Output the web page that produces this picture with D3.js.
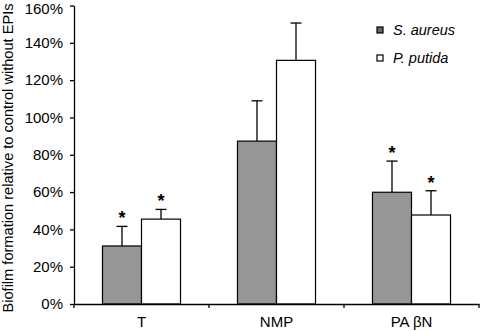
<!DOCTYPE html>
<html><head><meta charset="utf-8">
<script src="https://cdn.jsdelivr.net/npm/d3@7"></script>
<style>body{margin:0;background:#fff}svg{display:block}text{font-family:"Liberation Sans",Arial,sans-serif}</style>
</head><body><svg id="c" width="482" height="332"></svg>
<script>
const categories = ["T", "NMP", "PA \u03B2N"];
const seriesNames = ["S. aureus", "P. putida"];
const aureusValues = [0.311, 0.873, 0.599];
const aureusErrors = [0.105, 0.216, 0.167];
const putidaValues = [0.455, 1.306, 0.477];
const putidaErrors = [0.052, 0.200, 0.130];
const aureusSignificant = [true, false, true];
const putidaSignificant = [true, false, true];
const yTicks = [0, 0.2, 0.4, 0.6, 0.8, 1.0, 1.2, 1.4, 1.6];
const seriesColors = ["#969696", "#ffffff"];

(function() {
const svg = d3.select("#c");
const FS = 15;
const mLeft = 74, mRight = 479, mTop = 5.5, mBottom = 304;
const x0 = d3.scaleBand().domain(categories).range([mLeft, mRight]).padding(0);
const x1 = d3.scaleBand().domain(seriesNames).range([0, x0.bandwidth()]).paddingInner(0).paddingOuter(0.73);
const y = d3.scaleLinear().domain([0, 1.6]).range([mBottom, mTop]);

const rows = categories.map((c, i) => ({
  cat: c,
  vals: [
    {s: seriesNames[0], v: aureusValues[i], e: aureusErrors[i], sig: aureusSignificant[i], col: seriesColors[0]},
    {s: seriesNames[1], v: putidaValues[i], e: putidaErrors[i], sig: putidaSignificant[i], col: seriesColors[1]}
  ]
}));

const g = svg.append("g");
const groups = g.selectAll("g.grp").data(rows).join("g").attr("class", "grp").attr("transform", d => `translate(${x0(d.cat)},0)`);
groups.selectAll("g.err").data(d => d.vals).join("g").attr("class", "err").each(function(d) {
  const cx = x1(d.s) + x1.bandwidth() / 2;
  const sel = d3.select(this);
  sel.append("line").attr("x1", cx).attr("x2", cx).attr("y1", y(d.v)).attr("y2", y(d.v + d.e)).attr("stroke", "#000").attr("stroke-width", 1.3);
  sel.append("line").attr("x1", cx - 5.5).attr("x2", cx + 5.5).attr("y1", y(d.v + d.e)).attr("y2", y(d.v + d.e)).attr("stroke", "#000").attr("stroke-width", 1.3);
  if (d.sig) {
    sel.append("text").attr("x", cx).attr("y", y(d.v + d.e) - 2).attr("text-anchor", "middle").attr("font-size", 18).attr("font-weight", "bold").text("*");
  }
});
groups.selectAll("rect").data(d => d.vals).join("rect")
  .attr("x", d => x1(d.s)).attr("width", x1.bandwidth())
  .attr("y", d => y(d.v)).attr("height", d => y(0) - y(d.v))
  .attr("fill", d => d.col).attr("stroke", "#000").attr("stroke-width", 1.2);

const ya = svg.append("g").attr("transform", `translate(${mLeft},0)`)
  .call(d3.axisLeft(y).tickValues(yTicks).tickFormat(d3.format(".0%")).tickSize(4).tickSizeOuter(0).tickPadding(7));
ya.select(".domain").attr("stroke-width", 1.3);
ya.selectAll(".tick line").attr("stroke-width", 1.3);
ya.selectAll("text").attr("font-size", FS).attr("font-family", '"Liberation Sans",Arial,sans-serif').attr("fill", "#000");
ya.selectAll(".tick text").filter(d => d === 1.6).attr("dy", "0.5em");

const xa = svg.append("g").attr("transform", `translate(0,${mBottom})`)
  .call(d3.axisBottom(x0).tickSize(0).tickPadding(12));
xa.select(".domain").attr("stroke-width", 1.3);
xa.selectAll("text").attr("font-size", FS).attr("font-family", '"Liberation Sans",Arial,sans-serif').attr("fill", "#000");
const bounds = [mLeft].concat(categories.map(c => x0(c) + x0.bandwidth()));
xa.selectAll("line.b").data(bounds).join("line").attr("class", "b")
  .attr("x1", d => d).attr("x2", d => d).attr("y1", 0).attr("y2", 4).attr("stroke", "#000").attr("stroke-width", 1.3);

svg.append("text").attr("transform", `translate(12.5,158) rotate(-90)`)
  .attr("text-anchor", "middle").attr("font-size", 14.6).text("Biofilm formation relative to control without EPIs");

const leg = svg.append("g");
seriesNames.forEach((s, i) => {
  const yy = 30 + i * 28;
  leg.append("rect").attr("x", 377).attr("y", yy - 3).attr("width", 6).attr("height", 6).attr("fill", i === 0 ? "#666" : "#fff").attr("stroke", "#000").attr("stroke-width", 1.2);
  leg.append("text").attr("x", 393).attr("y", yy + 5).attr("font-size", 14.5).attr("font-style", "italic").text(s);
});
})();
</script></body></html>
